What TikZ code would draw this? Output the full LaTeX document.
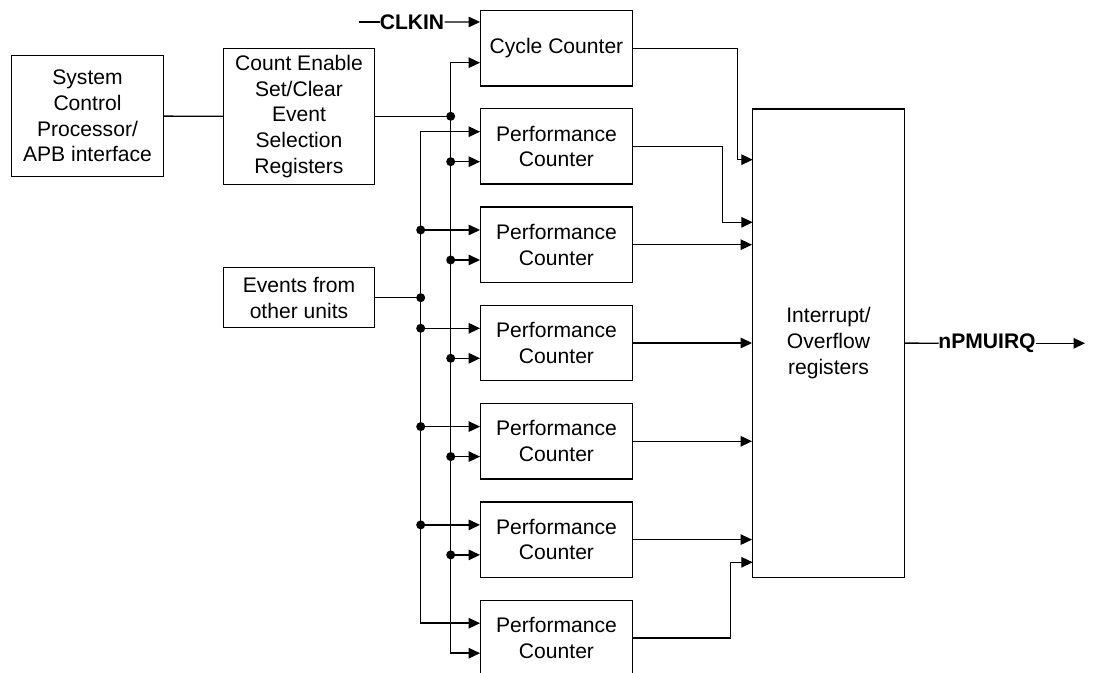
\documentclass[tikz,border=0pt]{standalone}
\usepackage{fontspec}
\setmainfont{Liberation Sans}
\usetikzlibrary{arrows.meta}
\begin{document}
\begin{tikzpicture}[
    pmuBox/.style={draw,align=center,minimum width=3.03cm,minimum height=1.506cm,inner sep=1pt,line width=0.8pt},
    pmuWire/.style={line width=0.8pt,line cap=rect},
    pmuSig/.style={line width=0.8pt,-{Triangle[length=0.23cm,width=0.21cm]}},
    pmuDot/.style={fill=black,circle,inner sep=0pt,minimum size=0.18cm},
    pmuPin/.style={inner sep=0pt,font=\fontsize{12pt}{14.6pt}\selectfont\bfseries},
    font=\fontsize{12pt}{14.6pt}\selectfont,
]
\useasboundingbox (0,0) rectangle (21.88,13.46);
\clip (0,0) rectangle (21.88,13.46);
% Left blocks
\node[pmuBox,minimum height=2.42cm] (sys) at (1.75,11.136) {System\\Control\\Processor/\\APB interface};
\node[pmuBox,minimum height=2.72cm] (cen) at (5.98,11.134) {Count Enable\\Set/Clear\\Event\\Selection\\Registers};
\node[pmuBox,minimum height=1.2cm] (evt) at (5.98,7.506) {Events from\\other units};
% Counters
\node[pmuBox] (cyc) at (11.13,12.493) {Cycle Counter};
\foreach \i in {1,...,6}
  \node[pmuBox] (p\i) at (11.13,{10.532-1.966*(\i-1)}) {Performance\\Counter};
% Interrupt block
\node[pmuBox,minimum height=9.366cm] (irq) at (16.57,6.597) {Interrupt/\\Overflow\\registers};
% Clock input
\node[pmuPin] (clk) at (8.24,13.02) {CLKIN};
\coordinate (clkStart) at (7.2,13.02);
\coordinate (clkIn) at ([yshift=0.527cm]cyc.west);
\draw[pmuWire] (clkStart) -- (clk.west);
\draw[pmuSig] (clk.east) -- (clkIn);
% Buses
\coordinate (busA) at (8.414,0);
\coordinate (busB) at (9.014,0);
\coordinate (cycIn) at ([yshift=-0.287cm]cyc.west);
\foreach \i in {1,...,6} {
  \coordinate (p\i a) at ([yshift=0.294cm]p\i.west);
  \coordinate (p\i b) at ([yshift=-0.306cm]p\i.west);
}
\draw[pmuWire] (sys.east) -- (cen.west);
\draw[pmuWire] (cen.east) -- (cen.east -| busB);
\draw[pmuWire] (evt.east) -- (evt.east -| busA);
\draw[pmuWire] (busA |- p1a) -- (busA |- p6a);
\draw[pmuWire] (busB |- cycIn) -- (busB |- p6b);
\draw[pmuSig] (busB |- cycIn) -- (cycIn);
\foreach \i in {1,...,6} {
  \draw[pmuSig] (busA |- p\i a) -- (p\i a);
  \draw[pmuSig] (busB |- p\i b) -- (p\i b);
}
% Junctions
\node[pmuDot] (dotCen) at (cen.east -| busB) {};
\node[pmuDot] (dotEvt) at (evt.east -| busA) {};
\foreach \i in {2,...,5}
  \node[pmuDot] (dotA\i) at (busA |- p\i a) {};
\foreach \i in {1,...,5}
  \node[pmuDot] (dotB\i) at (busB |- p\i b) {};
% Counter outputs
\coordinate (inCyc) at (15.055,10.266);
\coordinate (inP1) at (15.055,9.014);
\coordinate (inP6) at (15.055,2.214);
\draw[pmuSig] (cyc.east) -| ([xshift=-0.308cm]inCyc) -- (inCyc);
\draw[pmuSig] (p1.east) -| ([xshift=-0.608cm]inP1) -- (inP1);
\foreach \i in {2,...,5}
  \draw[pmuSig] (p\i.east) -- (p\i.east -| irq.west);
\draw[pmuSig] (p6.east) -| ([xshift=-0.44cm]inP6) -- (inP6);
% Interrupt output
\node[pmuPin] (npmu) at (19.74,6.594) {nPMUIRQ};
\coordinate (irqOut) at (21.70,6.594);
\draw[pmuWire] (irq.east) -- (npmu.west);
\draw[pmuSig] (npmu.east) -- (irqOut);
\end{tikzpicture}
\end{document}
